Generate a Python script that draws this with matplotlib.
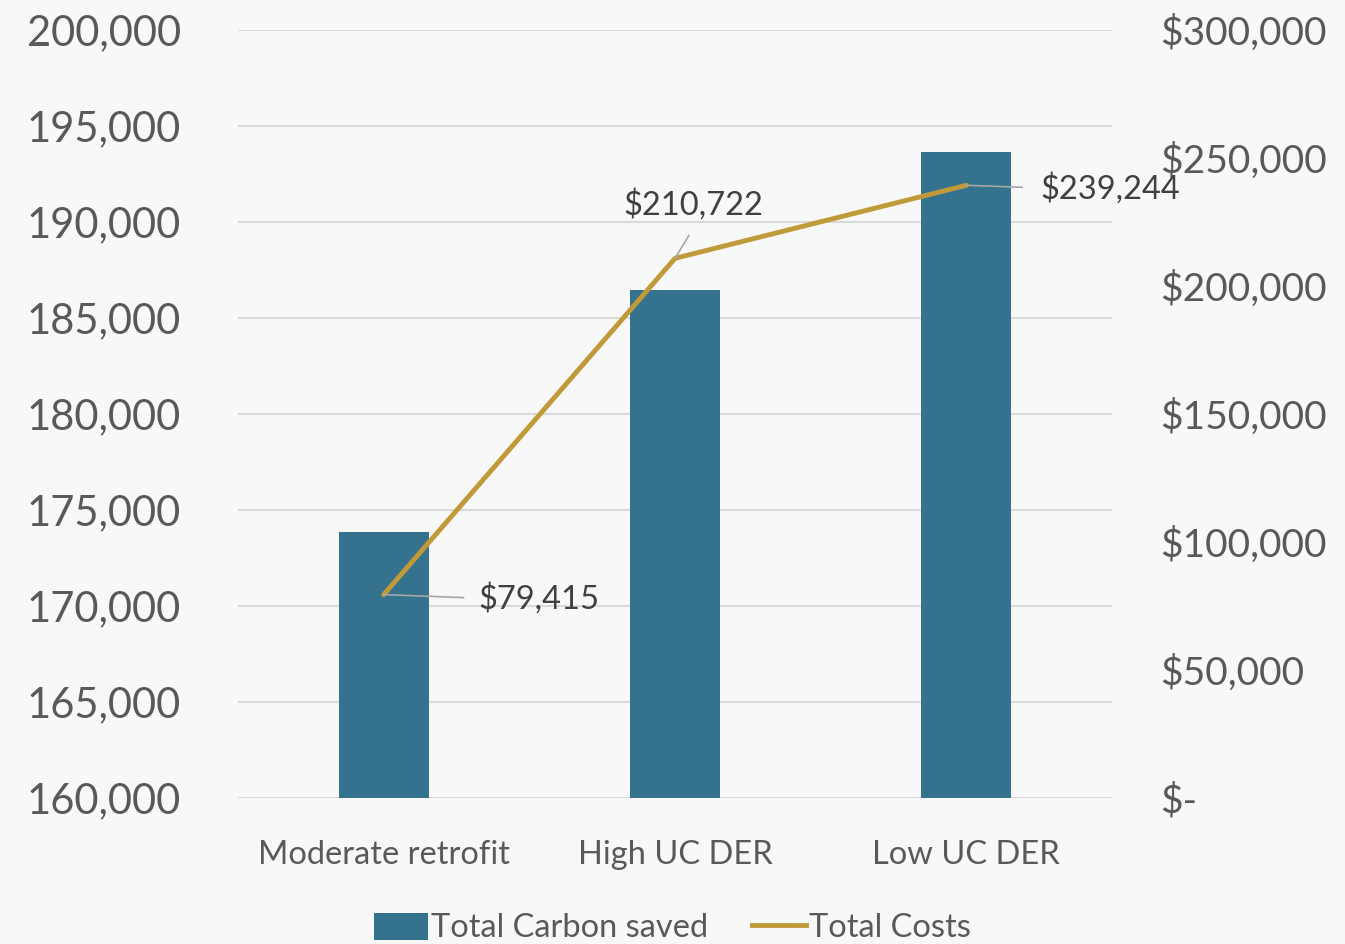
import matplotlib
matplotlib.use("Agg")
import matplotlib.pyplot as plt
from matplotlib.ticker import FuncFormatter, MultipleLocator
from matplotlib.patches import Patch
from matplotlib.lines import Line2D

categories = ["Moderate retrofit", "High UC DER", "Low UC DER"]
carbon_saved = [173870, 186470, 193650]
total_costs = [79415, 210722, 239244]
cost_labels = ["$79,415", "$210,722", "$239,244"]

BAR = "#35728D"
LINE = "#C09A38"
BG = "#F8F8F8"
TXT = "#595959"
GRID = "#D9D9D9"

plt.rcParams['font.family'] = ['Lato', 'DejaVu Sans']

fig = plt.figure(figsize=(13.45, 9.44), dpi=100, facecolor=BG)
ax = fig.add_axes([238/1345, 1-798/944, (1112-238)/1345, (798-29.7)/944])
ax.set_facecolor(BG)
x = list(range(len(categories)))
ax.bar(x, carbon_saved, width=0.31, color=BAR, zorder=2)
ax.set_xlim(-0.5, 2.5)
ax.set_ylim(160000, 200000)
ax.yaxis.set_major_locator(MultipleLocator(5000))
ax.yaxis.set_major_formatter(FuncFormatter(lambda v, p: f"{int(v):,}"))
ax.grid(axis='y', color=GRID, linewidth=1.5, zorder=0)
ax.set_axisbelow(True)
for s in ax.spines.values():
    s.set_visible(False)
ax.tick_params(axis='y', length=0, pad=41, labelsize=30, labelcolor=TXT)
ax.tick_params(axis='x', length=0, pad=30, labelsize=23.5, labelcolor=TXT)
ax.set_xticks(x)
ax.set_xticklabels(categories)

ax2 = ax.twinx()
ax2.set_ylim(0, 300000)
ax2.yaxis.set_major_locator(MultipleLocator(50000))
ax2.yaxis.set_major_formatter(FuncFormatter(lambda v, p: "$-" if v == 0 else f"${int(v):,}"))
for s in ax2.spines.values():
    s.set_visible(False)
ax2.tick_params(axis='y', length=0, pad=34.5, labelsize=28, labelcolor=TXT)
ax2.plot(x, total_costs, color=LINE, linewidth=3.5, zorder=3, solid_capstyle='round')

# data labels with leader lines
ann_pos = [(95, -4), (18, 38), (74, -3)]
has = ['left', 'center', 'left']
vas = ['center', 'bottom', 'center']
lead = [(80, -3), (14, 23), (56, -2)]
for i, (xi, yi) in enumerate(zip(x, total_costs)):
    ax2.annotate(cost_labels[i], xy=(xi, yi), xycoords='data',
                 xytext=ann_pos[i], textcoords='offset pixels',
                 ha=has[i], va=vas[i], fontsize=23.5, color="#404040", zorder=4)
    ax2.annotate("", xy=(xi, yi), xycoords='data', xytext=lead[i], textcoords='offset pixels',
                 arrowprops=dict(arrowstyle='-', color="#A6A6A6", lw=1.2, shrinkA=0, shrinkB=0))

handles = [Patch(facecolor=BAR, edgecolor='none'), Line2D([0], [0], color=LINE, linewidth=3.5)]
fig.legend(handles, ["Total Carbon saved", "Total Costs"], loc='center',
           bbox_to_anchor=(0.5, 1-928/944), ncol=2, frameon=False, fontsize=23.5,
           labelcolor=TXT, handlelength=1.65, handleheight=0.9, handletextpad=0.1, columnspacing=1.35)

fig.savefig("out.png", dpi=100, facecolor=BG)
